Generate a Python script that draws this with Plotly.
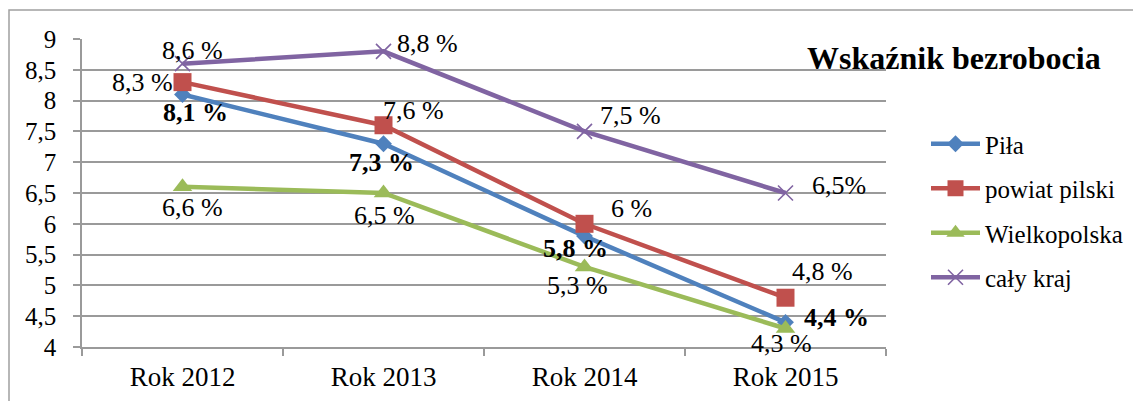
"""Wskaźnik bezrobocia — line chart with per-point labels."""

import plotly.graph_objects as go

# ── data ─────────────────────────────────────────────────────────────

years = ["Rok 2012", "Rok 2013", "Rok 2014", "Rok 2015"]

pila = [8.1, 7.3, 5.8, 4.4]
powiat = [8.3, 7.6, 6.0, 4.8]
wielkopolska = [6.6, 6.5, 5.3, 4.3]
kraj = [8.6, 8.8, 7.5, 6.5]

pila_text = ["8,1 %", "7,3 %", "5,8 %", "4,4 %"]
powiat_text = ["8,3 %", "7,6 %", "6 %", "4,8 %"]
wielkopolska_text = ["6,6 %", "6,5 %", "5,3 %", "4,3 %"]
kraj_text = ["8,6 %", "8,8 %", "7,5 %", "6,5%"]

y_ticks = [4, 4.5, 5, 5.5, 6, 6.5, 7, 7.5, 8, 8.5, 9]
y_tick_text = ["4", "4,5", "5", "5,5", "6", "6,5", "7", "7,5", "8", "8,5", "9"]

# ── style ────────────────────────────────────────────────────────────

FONT = "Liberation Serif"
GRID = "#9a9a9a"
# page body has an 8px margin, so the figure is shifted up/left by that much
W, H = 1133, 393
L, R, T, B = 74, 255, 31, 54
PW, PH = W - L - R, H - T - B


def px_x(x):
    """Screen x pixel -> paper coordinate."""
    return (x - 8 - L) / PW


def px_y(y):
    """Screen y pixel -> paper coordinate."""
    return (H - B - (y - 8)) / PH


series = [
    # name, values, labels, color, marker, bold, label offsets (dx, dy px)
    ("Piła", pila, pila_text, "#4F81BD",
     {"symbol": "diamond", "size": 13}, True,
     [(13, -18), (-2, -19), (-9, -12), (51, 5)]),
    ("powiat pilski", powiat, powiat_text, "#C0504D",
     {"symbol": "square", "size": 18}, False,
     [(-40, 0), (30, 15), (47, 15), (37, 26)]),
    ("Wielkopolska", wielkopolska, wielkopolska_text, "#9BBB59",
     {"symbol": "triangle-up", "size": 17}, False,
     [(10, -21), (1, -22), (-7, -19), (-4, -15)]),
    ("cały kraj", kraj, kraj_text, "#8064A2",
     {"symbol": "x-thin", "size": 15, "line": {"width": 1.6, "color": "#8064A2"}}, False,
     [(10, 13), (44, 8), (46, 16), (53, 8)]),
]

# ── chart ────────────────────────────────────────────────────────────

fig = go.Figure()
annotations = []

for name, values, labels, color, marker, bold, offsets in series:
    fig.add_trace(
        go.Scatter(
            x=years,
            y=values,
            name=name,
            legendgroup=name,
            mode="lines+markers",
            line={"color": color, "width": 4.5},
            marker={"color": color, **marker},
        )
    )
    for x, y, t, (dx, dy) in zip(years, values, labels, offsets):
        annotations.append(
            dict(
                x=x,
                y=y,
                text=f"<b>{t}</b>" if bold else t,
                showarrow=False,
                xanchor="center",
                yanchor="middle",
                xshift=dx,
                yshift=dy,
                font={"family": FONT, "size": 26, "color": "black"},
            )
        )

annotations.append(
    dict(
        x=px_x(954),
        y=px_y(58),
        xref="paper",
        yref="paper",
        xanchor="center",
        yanchor="middle",
        text="<b>Wskaźnik bezrobocia</b>",
        showarrow=False,
        font={"family": FONT, "size": 32, "color": "black"},
    )
)

fig.add_shape(
    type="rect",
    xref="paper",
    yref="paper",
    x0=px_x(9),
    x1=px_x(1160),
    y0=px_y(420),
    y1=px_y(10),
    line={"color": "#a0a0a0", "width": 1.5},
    layer="below",
)

fig.update_layout(
    width=W,
    height=H,
    margin={"l": L, "r": R, "t": T, "b": B, "autoexpand": False},
    paper_bgcolor="white",
    plot_bgcolor="white",
    font={"family": FONT, "size": 25, "color": "black"},
    annotations=annotations,
    showlegend=True,
    legend={
        "x": px_x(926),
        "y": px_y(121),
        "xanchor": "left",
        "yanchor": "top",
        "font": {"family": FONT, "size": 25, "color": "black"},
        "itemwidth": 49,
        "tracegroupgap": 9,
    },
)
fig.update_xaxes(
    type="category",
    range=[-0.5, 3.5],
    automargin=False,
    showgrid=False,
    showline=True,
    linecolor=GRID,
    linewidth=1.5,
    ticks="outside",
    tickson="boundaries",
    ticklen=7,
    tickcolor=GRID,
    tickwidth=1.5,
    ticklabelstandoff=5,
    tickfont={"family": FONT, "size": 27},
)
fig.update_yaxes(
    range=[4, 9],
    automargin=False,
    tickvals=y_ticks,
    ticktext=y_tick_text,
    showgrid=True,
    gridcolor=GRID,
    gridwidth=1.5,
    showline=True,
    linecolor=GRID,
    linewidth=1.5,
    ticks="outside",
    ticklen=7,
    tickcolor=GRID,
    tickwidth=1.5,
    ticklabelstandoff=12,
    tickfont={"family": FONT, "size": 25},
    zeroline=False,
)

fig.write_html("out.html")
